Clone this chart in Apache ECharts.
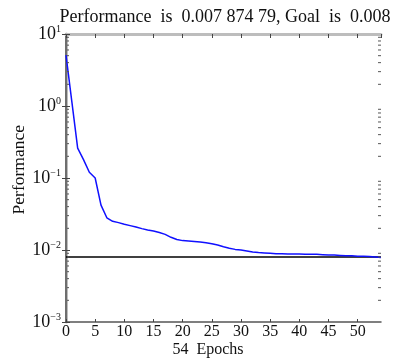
<!DOCTYPE html>
<html>
<head>
<meta charset="utf-8">
<script src="https://cdn.jsdelivr.net/npm/echarts@6/dist/echarts.min.js"></script>
<style>html,body{margin:0;padding:0;background:#fff;}#c{width:398px;height:363px;}</style>
</head>
<body>
<div id="c"></div>
<script>
var epochs = [];
for (var i = 0; i <= 54; i++) epochs.push(i);
var performance = [5.1, 1.15, 0.26, 0.18, 0.12, 0.10, 0.042, 0.028, 0.025, 0.024,
  0.0228, 0.0218, 0.0208, 0.0198, 0.019, 0.0184, 0.0175, 0.0165, 0.015, 0.014,
  0.0135, 0.0133, 0.0131, 0.0129, 0.0126, 0.0122, 0.0117, 0.0111, 0.0106, 0.0102,
  0.0100, 0.0097, 0.0094, 0.0092, 0.0091, 0.0090, 0.0089, 0.0089, 0.0088, 0.0088,
  0.0088, 0.0087, 0.0087, 0.0087, 0.0086, 0.0085, 0.0085, 0.0084, 0.0083, 0.0083,
  0.0082, 0.0082, 0.0081, 0.0080, 0.00787];
var goal = 0.008;
var xTicks = [0, 5, 10, 15, 20, 25, 30, 35, 40, 45, 50];
var yTickExponents = [-3, -2, -1, 0, 1];
var yMinorTicks = [];
yTickExponents.slice(0, -1).forEach(function (e) {
  for (var m = 2; m <= 9; m++) yMinorTicks.push(m * Math.pow(10, e));
});
var titleText = 'Performance  is  0.007 874 79, Goal  is  0.008';
var xLabelText = '54  Epochs';
var yLabelText = 'Performance';

var serif = 'Liberation Serif, Times New Roman, serif';
var chart = echarts.init(document.getElementById('c'));
var gridL = 66, gridR = 17, gridT = 34, gridB = 41;

function supLabel(v) {
  var e = Math.round(Math.log10(v));
  return '{b|10}{s|' + (e < 0 ? '\u2212' + (-e) : e) + '}';
}

chart.setOption({
  animation: false,
  backgroundColor: '#fff',
  title: [
    { text: titleText, left: 220, top: 3, textAlign: 'center',
      textStyle: { fontFamily: serif, fontSize: 18, fontWeight: 'normal', color: '#111' } },
    { text: xLabelText, left: 203, top: 337, textAlign: 'center',
      textStyle: { fontFamily: serif, fontSize: 16, fontWeight: 'normal', color: '#111' } }
  ],
  graphic: [{
    type: 'text', left: 10, top: 125, rotation: Math.PI / 2,
    style: { text: yLabelText, font: '17.5px ' + serif, fill: '#111' }
  }],
  grid: { left: gridL, right: gridR, top: gridT, bottom: gridB },
  xAxis: [{
    type: 'value', min: 0, max: 54, interval: 5, position: 'bottom',
    axisLine: { lineStyle: { color: '#555', width: 1.5 } },
    axisTick: { inside: true, length: 3, lineStyle: { color: '#444' } },
    axisLabel: { fontFamily: serif, fontSize: 16, color: '#111', margin: 2, showMaxLabel: false },
    splitLine: { show: false }
  }, {
    type: 'value', min: 0, max: 54, interval: 5, position: 'top',
    axisLine: { lineStyle: { color: '#bdbdbd', width: 3 } },
    axisTick: { inside: true, length: 4, lineStyle: { color: '#444' } },
    axisLabel: { show: false },
    splitLine: { show: false }
  }],
  yAxis: [{
    type: 'log', logBase: 10, min: 0.001, max: 10, position: 'left',
    axisLine: { show: true, lineStyle: { color: '#bdbdbd', width: 3 } },
    axisTick: { show: true, inside: true, length: 4, lineStyle: { color: '#444' } },
    axisLabel: {
      margin: 5, formatter: supLabel,
      rich: {
        b: { fontFamily: serif, fontSize: 18, color: '#111', lineHeight: 20 },
        s: { fontFamily: serif, fontSize: 10, color: '#111', verticalAlign: 'top', lineHeight: 20, padding: [0, 0, 10, 0] }
      }
    },
    splitLine: { show: false }
  }, {
    type: 'log', logBase: 10, min: 0.001, max: 10, position: 'right',
    axisLine: { show: true, lineStyle: { color: '#555', width: 1.5 } },
    axisTick: { show: true, inside: true, length: 4, lineStyle: { color: '#444' } },
    axisLabel: { show: false },
    splitLine: { show: false }
  }],
  series: [{
    type: 'line', xAxisIndex: 0, yAxisIndex: 0,
    data: epochs.map(function (x, i) { return [x, performance[i]]; }),
    showSymbol: false, symbol: 'none',
    lineStyle: { color: '#1010ff', width: 1.5 }, z: 3
  }, {
    type: 'line', xAxisIndex: 0, yAxisIndex: 0,
    data: [[0, goal], [54, goal]],
    showSymbol: false, symbol: 'none',
    lineStyle: { color: '#000', width: 1.5 }, z: 2
  }, {
    type: 'custom', xAxisIndex: 0, yAxisIndex: 0,
    data: yMinorTicks.map(function (v) { return [0, v]; }),
    renderItem: function (params, api) {
      var v = api.value(1);
      var pl = api.coord([0, v]);
      var pr = api.coord([54, v]);
      return { type: 'group', children: [
        { type: 'line', shape: { x1: pl[0] + 1, y1: pl[1], x2: pl[0] + 3, y2: pl[1] }, style: { stroke: '#555', lineWidth: 1 } },
        { type: 'line', shape: { x1: pr[0] - 3, y1: pr[1], x2: pr[0], y2: pr[1] }, style: { stroke: '#555', lineWidth: 1 } }
      ] };
    },
    silent: true, z: 4
  }]
});
</script>
</body>
</html>
